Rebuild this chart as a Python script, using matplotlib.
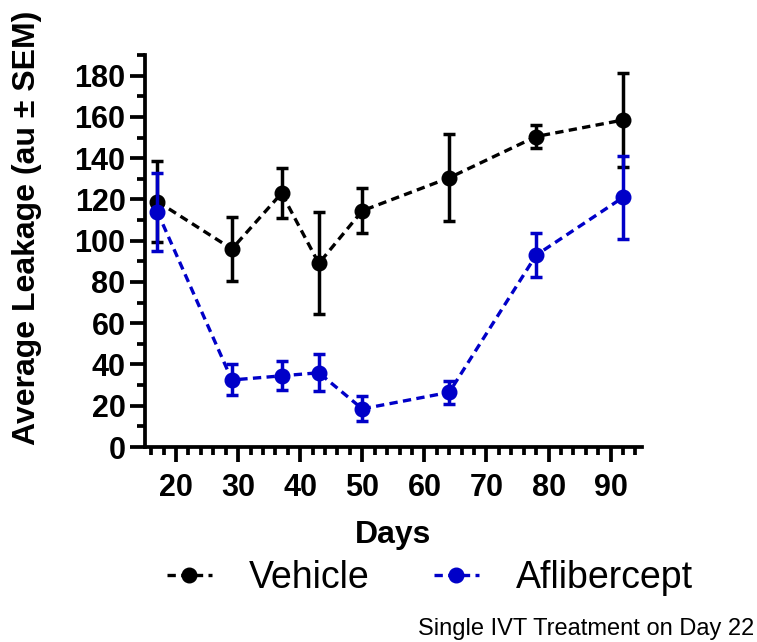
import matplotlib.pyplot as plt
from matplotlib.ticker import MultipleLocator

plt.rcParams['font.family'] = ['Liberation Sans', 'DejaVu Sans']

# Days of measurement
days = [17, 29, 37, 43, 50, 64, 78, 92]

# Vehicle group (mean, SEM)
vehicle_mean = [119, 96, 123, 89, 114.5, 130.5, 150.5, 158.5]
vehicle_sem = [19.5, 15.5, 12, 24.7, 11, 21, 5.5, 23]

# Aflibercept group (mean, SEM)
aflib_mean = [114, 32.5, 34.5, 36, 18.5, 26.5, 93, 121]
aflib_sem = [19, 7.5, 7, 9, 6, 5.5, 10.5, 20]

series_names = ["Vehicle", "Aflibercept"]
colors = ["black", "#0000C8"]

fig = plt.figure(figsize=(7.57, 6.42), dpi=100)
ax = fig.add_axes([0.1915, 0.3037, 0.6562, 0.6106])

handles = []
for k, (mean, sem) in enumerate([(vehicle_mean, vehicle_sem), (aflib_mean, aflib_sem)]):
    c = colors[k]
    ax.errorbar(days, mean, yerr=sem, fmt='none', ecolor=c, elinewidth=2.5,
                capsize=4.5, capthick=2.5, zorder=3 + 2 * k)
    ln, = ax.plot(days, mean, color=c, lw=2.4, linestyle=(0, (2.5, 1.6)),
                  marker='o', markersize=10.5, zorder=4 + 2 * k, label=series_names[k])
    handles.append(ln)

ax.set_xlim(15, 95)
ax.set_ylim(0, 190)

ax.xaxis.set_major_locator(MultipleLocator(10))
ax.xaxis.set_minor_locator(MultipleLocator(2))
ax.yaxis.set_major_locator(MultipleLocator(20))
ax.yaxis.set_minor_locator(MultipleLocator(10))
ax.set_yticks(range(0, 181, 20))

for side in ['top', 'right']:
    ax.spines[side].set_visible(False)
for side in ['left', 'bottom']:
    ax.spines[side].set_linewidth(2.7)

ax.tick_params(axis='both', which='major', width=2.7, length=11, labelsize=22)
ax.tick_params(axis='both', which='minor', width=2.7, length=6)
ax.tick_params(axis='x', which='major', pad=8)
ax.tick_params(axis='y', which='major', pad=3)
for lab in ax.get_xticklabels() + ax.get_yticklabels():
    lab.set_fontweight('bold')

ax.set_xlabel("Days", fontsize=23, fontweight='bold', labelpad=12)
ax.set_ylabel("Average Leakage (au \u00b1 SEM)", fontsize=23, fontweight='bold')
# label sits a bit higher than the axis centre in the original
ax.yaxis.set_label_coords(-0.207, 0.56)

fig.legend(handles=handles, loc='center', bbox_to_anchor=(0.568, 0.1), ncol=2,
           frameon=False, fontsize=27, handlelength=1.2, columnspacing=1.7,
           handletextpad=1.0)

fig.text(0.997, 0.003, "Single IVT Treatment on Day 22", ha='right', va='bottom', fontsize=17)

fig.savefig("out.png", dpi=100)
